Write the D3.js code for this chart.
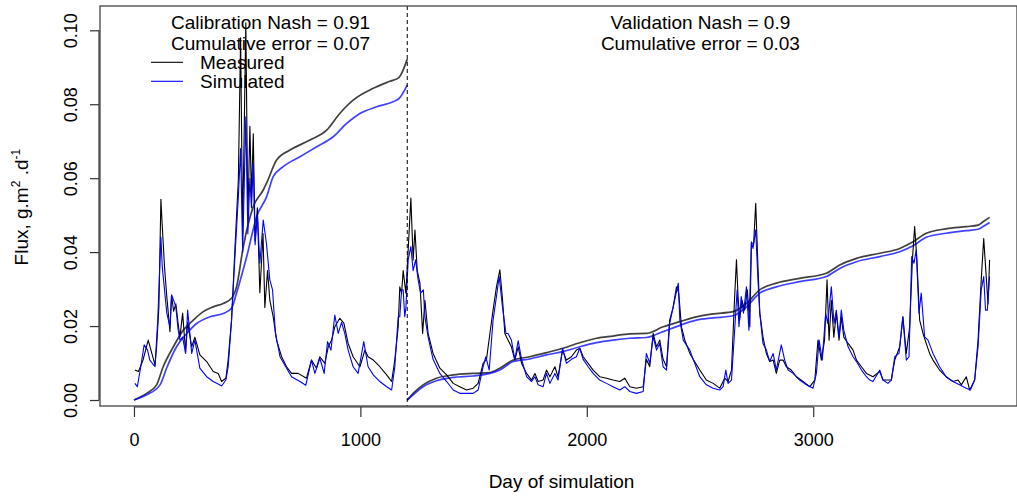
<!DOCTYPE html>
<html>
<head>
<meta charset="utf-8">
<script src="https://cdn.jsdelivr.net/npm/d3@7"></script>
<style>
  html, body { margin: 0; padding: 0; background: #fff; }
  svg { display: block; font-family: "Liberation Sans", Arial, Helvetica, sans-serif; }
</style>
</head>
<body>
<svg id="chart" width="1017" height="497"></svg>
<script>
// Daily flux, measured vs simulated: [day, flux g.m-2.d-1]
const measured = [
  [4,0.0081],[20,0.0077],[40,0.0108],[55,0.0144],[63,0.0162],[75,0.0135],[93,0.0095],[100,0.0144],[110,0.025],[119,0.0543],
  [125,0.047],[135,0.036],[145,0.028],[159,0.0185],[166,0.0284],[175,0.024],[185,0.026],[195,0.0207],[203,0.017],[215,0.0235],
  [228,0.013],[237,0.021],[255,0.0144],[269,0.017],[291,0.0122],[321,0.0104],[350,0.0077],[372,0.0072],[387,0.005],[406,0.0059],
  [416,0.0108],[431,0.0216],[446,0.041],[461,0.0595],[471,0.098],[480,0.045],[494,0.102],[503,0.049],[512,0.074],[519,0.055],
  [527,0.072],[535,0.043],[545,0.052],[556,0.029],[570,0.045],[578,0.025],[590,0.035],[600,0.027],[615,0.0225],[630,0.0162],
  [652,0.0117],[674,0.009],[696,0.0072],[725,0.0072],[762,0.0059],[784,0.0108],[806,0.0086],[821,0.0117],[843,0.0099],[858,0.0144],
  [873,0.0162],[887,0.0198],[909,0.0221],[927,0.0208],[946,0.0153],[968,0.0117],[998,0.009],[1020,0.0135],[1034,0.0117],[1057,0.0108],
  [1086,0.009],[1116,0.0068],[1138,0.005],[1152,0.0108],[1167,0.0198],[1174,0.0306],[1182,0.0289],[1189,0.035],[1201,0.0289],[1211,0.0406],
  [1223,0.0546],[1233,0.0379],[1241,0.046],[1251,0.035],[1263,0.0316],[1275,0.018],[1285,0.027],[1299,0.018],[1321,0.0126],[1351,0.0086],
  [1381,0.0068],[1410,0.0045],[1439,0.0036],[1469,0.0027],[1498,0.0032],[1520,0.0045],[1542,0.0099],[1557,0.011],[1572,0.018],[1586,0.0243],
  [1601,0.0306],[1616,0.0352],[1628,0.027],[1638,0.018],[1652,0.0162],[1667,0.0144],[1682,0.0108],[1697,0.0144],[1712,0.0099],[1734,0.0072],
  [1756,0.0054],[1771,0.0072],[1785,0.005],[1807,0.0054],[1822,0.0081],[1837,0.0063],[1859,0.009],[1873,0.0063],[1893,0.0135],[1910,0.0108],
  [1932,0.0117],[1954,0.0135],[1969,0.014],[1984,0.0117],[2006,0.0099],[2028,0.0081],[2057,0.0063],[2087,0.0059],[2116,0.0054],[2146,0.005],
  [2168,0.0059],[2190,0.0036],[2219,0.0032],[2249,0.0036],[2263,0.011],[2278,0.009],[2293,0.018],[2308,0.0144],[2322,0.0162],[2337,0.011],
  [2352,0.009],[2366,0.0216],[2381,0.025],[2396,0.0306],[2406,0.0289],[2418,0.0198],[2433,0.0162],[2455,0.0126],[2470,0.011],[2499,0.0081],
  [2528,0.0054],[2558,0.0045],[2587,0.0032],[2609,0.0059],[2624,0.005],[2639,0.0081],[2653,0.028],[2661,0.0379],[2668,0.028],[2675,0.0216],
  [2685,0.027],[2697,0.0243],[2709,0.0298],[2720,0.0198],[2727,0.0424],[2737,0.0424],[2746,0.0532],[2756,0.036],[2764,0.0235],[2778,0.0171],
  [2793,0.0126],[2808,0.0104],[2823,0.0108],[2837,0.0072],[2852,0.0108],[2867,0.0108],[2881,0.009],[2903,0.0081],[2926,0.0063],[2955,0.005],
  [2985,0.0036],[3007,0.0054],[3021,0.0162],[3036,0.0108],[3050,0.0162],[3061,0.0325],[3070,0.0162],[3080,0.027],[3091,0.017],[3102,0.0235],
  [3114,0.0162],[3124,0.0225],[3135,0.017],[3154,0.0153],[3176,0.0135],[3191,0.0108],[3213,0.009],[3235,0.0072],[3264,0.0063],[3294,0.0077],
  [3308,0.0054],[3330,0.0054],[3345,0.0054],[3360,0.0108],[3382,0.0144],[3396,0.0225],[3411,0.0126],[3426,0.0198],[3438,0.0379],[3448,0.0469],
  [3458,0.0379],[3470,0.0216],[3485,0.018],[3499,0.0153],[3514,0.0126],[3529,0.0108],[3558,0.0081],[3587,0.0063],[3617,0.005],[3640,0.0054],
  [3654,0.0041],[3676,0.0063],[3691,0.0027],[3713,0.0054],[3728,0.0162],[3742,0.0325],[3753,0.0437],[3765,0.0325],[3772,0.026],[3779,0.0379]
];

const simulated = [
  [4,0.0045],[15,0.0036],[30,0.009],[45,0.0149],[60,0.0135],[70,0.0108],[93,0.009],[105,0.0216],[119,0.044],[125,0.036],
  [135,0.0298],[145,0.0235],[159,0.0198],[166,0.0284],[175,0.027],[185,0.0252],[195,0.019],[203,0.0162],[215,0.017],[228,0.0126],
  [237,0.0243],[255,0.0126],[269,0.0162],[291,0.0086],[321,0.0063],[350,0.005],[372,0.0043],[387,0.0038],[406,0.0054],[416,0.009],
  [431,0.0216],[446,0.0388],[461,0.055],[471,0.068],[480,0.040],[494,0.0766],[503,0.045],[512,0.060],[519,0.052],[527,0.064],
  [535,0.042],[545,0.050],[556,0.037],[571,0.0487],[585,0.0424],[600,0.0325],[612,0.0298],[625,0.018],[645,0.0117],[674,0.0086],
  [696,0.0063],[733,0.005],[759,0.004],[784,0.0108],[799,0.0072],[821,0.0113],[840,0.0072],[855,0.0158],[870,0.0135],[887,0.023],
  [902,0.018],[917,0.021],[931,0.018],[946,0.0135],[968,0.009],[990,0.0072],[1015,0.0158],[1034,0.009],[1057,0.0068],[1086,0.005],
  [1116,0.0036],[1138,0.0027],[1152,0.009],[1167,0.0225],[1174,0.0225],[1182,0.0298],[1189,0.0298],[1196,0.0225],[1201,0.025],[1211,0.0379],
  [1223,0.0415],[1233,0.035],[1244,0.0379],[1255,0.0325],[1266,0.0289],[1278,0.0298],[1285,0.0225],[1299,0.0171],[1321,0.011],[1351,0.0072],
  [1381,0.005],[1410,0.0027],[1439,0.0018],[1469,0.0018],[1498,0.0018],[1520,0.0027],[1542,0.009],[1554,0.0117],[1569,0.0081],[1586,0.0216],
  [1601,0.028],[1613,0.0334],[1628,0.025],[1643,0.018],[1652,0.018],[1667,0.0162],[1682,0.011],[1697,0.016],[1712,0.011],[1734,0.0063],
  [1756,0.005],[1771,0.0063],[1785,0.0041],[1807,0.0036],[1822,0.0072],[1837,0.0045],[1859,0.0072],[1873,0.0054],[1893,0.014],[1910,0.0099],
  [1932,0.011],[1954,0.0117],[1969,0.014],[1984,0.011],[2006,0.009],[2028,0.0072],[2057,0.0054],[2087,0.0045],[2116,0.0036],[2146,0.0027],
  [2168,0.0036],[2190,0.0023],[2219,0.0018],[2249,0.0023],[2263,0.0126],[2278,0.0099],[2293,0.0171],[2308,0.0135],[2322,0.0153],[2337,0.009],
  [2352,0.0081],[2366,0.0207],[2381,0.025],[2404,0.0316],[2411,0.0216],[2426,0.0162],[2455,0.0135],[2470,0.011],[2499,0.0063],[2528,0.0041],
  [2558,0.0032],[2587,0.0027],[2602,0.0036],[2614,0.0081],[2624,0.0045],[2639,0.0054],[2653,0.0189],[2664,0.0298],[2672,0.0198],[2682,0.028],
  [2692,0.0235],[2705,0.0306],[2716,0.0189],[2727,0.0428],[2734,0.041],[2746,0.046],[2756,0.0325],[2764,0.0235],[2778,0.0153],[2793,0.0135],
  [2808,0.0104],[2823,0.0126],[2837,0.0081],[2859,0.0149],[2874,0.0108],[2889,0.0081],[2911,0.0072],[2940,0.0054],[2970,0.0041],[2999,0.0032],
  [3014,0.0072],[3026,0.0162],[3040,0.0108],[3055,0.0235],[3064,0.0207],[3080,0.0306],[3092,0.0207],[3102,0.0243],[3114,0.017],[3124,0.0243],
  [3135,0.0189],[3154,0.0144],[3176,0.0117],[3191,0.0104],[3213,0.0081],[3235,0.0063],[3250,0.0054],[3264,0.005],[3294,0.0081],[3308,0.0054],
  [3330,0.0045],[3345,0.0054],[3360,0.0117],[3379,0.0126],[3396,0.0225],[3411,0.0108],[3423,0.0117],[3435,0.0388],[3445,0.037],[3455,0.0406],
  [3467,0.0235],[3477,0.0289],[3492,0.0171],[3507,0.0162],[3529,0.0126],[3558,0.009],[3587,0.0063],[3617,0.005],[3646,0.0041],[3676,0.0032],
  [3694,0.0027],[3713,0.0054],[3728,0.0144],[3742,0.0298],[3753,0.0334],[3761,0.0243],[3769,0.0243],[3779,0.0334]
];

// Scaled cumulative flux, calibration period
const calMeasuredCum = [
  [0,0],[56,0.0018],[100,0.0041],[129,0.009],[174,0.0144],[218,0.0189],[262,0.0216],[306,0.0239],[350,0.0252],[394,0.0261],
  [431,0.0275],[453,0.0306],[483,0.0415],[527,0.0523],[571,0.0568],[586,0.0587],[630,0.0649],[689,0.0676],[777,0.0703],[851,0.073],
  [909,0.0775],[968,0.0811],[1057,0.0843],[1130,0.0862],[1170,0.0872],[1207,0.0922]
];
const calSimulatedCum = [
  [0,0],[56,0.0014],[115,0.0041],[144,0.0086],[188,0.0144],[233,0.018],[277,0.0207],[336,0.0225],[394,0.0234],[431,0.0248],
  [453,0.0289],[498,0.0388],[542,0.0496],[586,0.055],[615,0.0604],[659,0.0631],[733,0.0658],[807,0.0685],[880,0.0712],[939,0.0748],
  [998,0.0775],[1072,0.0793],[1145,0.0807],[1170,0.0815],[1207,0.0852]
];

// Scaled cumulative flux, validation period
const valMeasuredCum = [
  [1207,0],[1233,0.0018],[1277,0.0041],[1336,0.0059],[1410,0.0068],[1498,0.0072],[1572,0.0074],[1616,0.0086],[1675,0.0108],[1748,0.0117],
  [1822,0.0128],[1895,0.014],[1969,0.0155],[2043,0.0167],[2116,0.0173],[2190,0.0179],[2263,0.018],[2337,0.0198],[2411,0.0212],[2484,0.0225],
  [2558,0.0233],[2646,0.0239],[2705,0.0261],[2764,0.0298],[2837,0.0316],[2940,0.0329],[3058,0.0343],[3117,0.0365],[3191,0.0383],[3294,0.0397],
  [3382,0.041],[3441,0.0428],[3499,0.0451],[3587,0.0463],[3676,0.0469],[3728,0.0473],[3750,0.0482],[3779,0.0494]
];
const valSimulatedCum = [
  [1207,0],[1233,0.0014],[1277,0.0036],[1336,0.0052],[1410,0.0061],[1498,0.0065],[1572,0.0072],[1616,0.0081],[1675,0.0104],[1748,0.0111],
  [1822,0.0122],[1895,0.0131],[1969,0.0144],[2043,0.0155],[2116,0.0162],[2190,0.0167],[2263,0.0169],[2337,0.0185],[2411,0.0202],[2484,0.0216],
  [2558,0.0222],[2646,0.0228],[2705,0.0252],[2764,0.0289],[2837,0.0306],[2940,0.032],[3058,0.0334],[3117,0.0356],[3191,0.0374],[3294,0.0388],
  [3382,0.0401],[3441,0.0417],[3499,0.044],[3587,0.0451],[3676,0.0458],[3728,0.0462],[3750,0.0469],[3779,0.048]
];

const splitDay = 1207;
const xTicks = [0, 1000, 2000, 3000];
const yTicks = [0, 0.02, 0.04, 0.06, 0.08, 0.10];
const calibrationText = ["Calibration Nash = 0.91", "Cumulative error = 0.07"];
const validationText = ["Validation Nash = 0.9", "Cumulative error = 0.03"];
const legendLabels = ["Measured", "Simulated"];
const seriesColors = ["#000000", "#0000ff"];

// ---- layout ----
const svg = d3.select("#chart");
const plot = { left: 100, right: 1017, top: 6, bottom: 406 };

const x = d3.scaleLinear().domain([-150, 3900]).range([plot.left, plot.right]);
const y = d3.scaleLinear().domain([-0.00162, 0.10657]).range([plot.bottom, plot.top]);

svg.append("defs").append("clipPath").attr("id", "plot-clip")
  .append("rect")
  .attr("x", plot.left).attr("y", plot.top)
  .attr("width", plot.right - plot.left).attr("height", plot.bottom - plot.top);

const flux = d3.line().x(d => x(d[0])).y(d => y(d[1]));
const cum = d3.line().x(d => x(d[0])).y(d => y(d[1])).curve(d3.curveMonotoneX);

const g = svg.append("g").attr("clip-path", "url(#plot-clip)");

// cumulative curves
[[calMeasuredCum, 0], [valMeasuredCum, 0], [calSimulatedCum, 1], [valSimulatedCum, 1]].forEach(([data, i]) => {
  g.append("path").datum(data)
    .attr("d", cum)
    .attr("fill", "none")
    .attr("stroke", seriesColors[i])
    .attr("stroke-opacity", 0.75)
    .attr("stroke-width", 1.7);
});

// daily flux
g.append("path").datum(measured)
  .attr("d", flux).attr("fill", "none")
  .attr("stroke", seriesColors[0]).attr("stroke-width", 1.1)
  .attr("stroke-linejoin", "round");
g.append("path").datum(simulated)
  .attr("d", flux).attr("fill", "none")
  .attr("stroke", seriesColors[1]).attr("stroke-width", 1.1)
  .attr("stroke-linejoin", "round");

// calibration / validation split
svg.append("line")
  .attr("x1", x(splitDay)).attr("x2", x(splitDay))
  .attr("y1", plot.top).attr("y2", plot.bottom)
  .attr("stroke", "#000").attr("stroke-width", 1)
  .attr("stroke-dasharray", "4,3");

// frame
svg.append("rect")
  .attr("x", plot.left).attr("y", plot.top)
  .attr("width", plot.right - plot.left).attr("height", plot.bottom - plot.top)
  .attr("fill", "none").attr("stroke", "#444").attr("stroke-width", 1.3);

// x axis
const xAxis = svg.append("g")
  .attr("transform", `translate(0,${plot.bottom + 1})`)
  .call(d3.axisBottom(x).tickValues(xTicks).tickSize(10).tickPadding(16).tickFormat(d3.format("d")));
xAxis.select(".domain").attr("d", `M${x(xTicks[0])},0H${x(xTicks[xTicks.length - 1])}`)
  .attr("stroke", "#333").attr("stroke-width", 1.2);
xAxis.selectAll(".tick line").attr("stroke", "#333").attr("stroke-width", 1.2);
xAxis.selectAll(".tick text")
  .attr("font-size", 18).attr("fill", "#000")
  .style("font-family", '"Liberation Sans", Arial, sans-serif');

// y axis
const yAxis = svg.append("g")
  .attr("transform", `translate(${plot.left - 1},0)`)
  .call(d3.axisLeft(y).tickValues(yTicks).tickSize(9).tickFormat(d3.format(".2f")));
yAxis.select(".domain").attr("d", `M0,${y(yTicks[0])}V${y(yTicks[yTicks.length - 1])}`)
  .attr("stroke", "#333").attr("stroke-width", 1.2);
yAxis.selectAll(".tick line").attr("stroke", "#333").attr("stroke-width", 1.2);
yAxis.selectAll(".tick text")
  .attr("x", null).attr("dy", null)
  .attr("transform", "translate(-22,0) rotate(-90)")
  .attr("text-anchor", "middle")
  .attr("font-size", 18).attr("fill", "#000")
  .style("font-family", '"Liberation Sans", Arial, sans-serif');

// axis titles
svg.append("text")
  .attr("x", (plot.left + plot.right) / 2 + 3)
  .attr("y", 488)
  .attr("text-anchor", "middle")
  .attr("font-size", 19)
  .text("Day of simulation");

const yTitle = svg.append("text")
  .attr("transform", `translate(28,${(y(0) + y(0.10)) / 2 - 8}) rotate(-90)`)
  .attr("text-anchor", "middle")
  .attr("font-size", 19);
yTitle.append("tspan").text("Flux, g.m");
yTitle.append("tspan").attr("font-size", 12).attr("dy", -8).text("2");
yTitle.append("tspan").attr("dy", 8).text(" .d");
yTitle.append("tspan").attr("font-size", 12).attr("dy", -8).text("-1");

// period statistics
const calCenter = (x(0) + x(splitDay)) / 2;
const valCenter = (x(splitDay) + x(3779)) / 2 + 2;
[[calibrationText, calCenter], [validationText, valCenter]].forEach(([lines, cx]) => {
  lines.forEach((t, i) => {
    svg.append("text")
      .attr("x", cx).attr("y", 28.5 + i * 21.7)
      .attr("text-anchor", "middle")
      .attr("font-size", 19)
      .text(t);
  });
});

// legend
legendLabels.forEach((label, i) => {
  const ly = 62.3 + i * 19;
  svg.append("line")
    .attr("x1", 151).attr("x2", 183)
    .attr("y1", ly).attr("y2", ly)
    .attr("stroke", seriesColors[i]).attr("stroke-width", 1.1);
  svg.append("text")
    .attr("x", 200).attr("y", ly + 6.5)
    .attr("font-size", 19)
    .text(label);
});
</script>
</body>
</html>
